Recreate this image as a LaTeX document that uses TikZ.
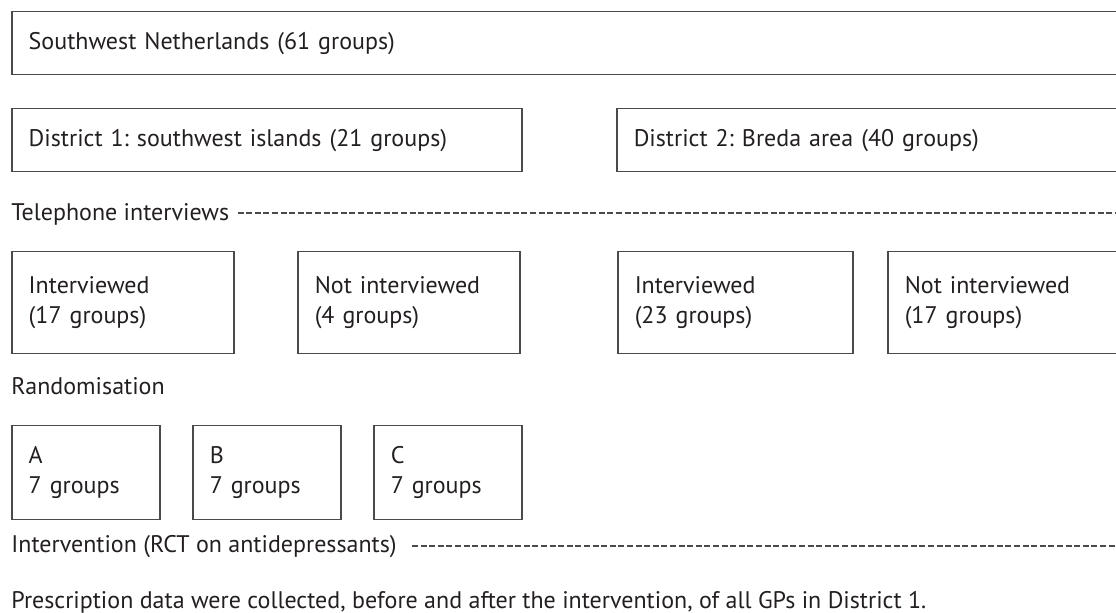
\documentclass[tikz,border=0pt]{standalone}
\usepackage{fontspec}
\setmainfont{PT Sans}
\usetikzlibrary{positioning}
\definecolor{inkgray}{HTML}{231F20}
\definecolor{linegray}{HTML}{4A4A4A}
\tikzset{
  stagebox/.style={draw=linegray, line width=0.75pt, anchor=north west, align=left,
    inner xsep=8.5pt, inner ysep=0pt, text=inkgray},
  steplabel/.style={anchor=base west, inner sep=0pt, text=inkgray},
  dashline/.style={draw=linegray, line width=0.55pt, dash pattern=on 3pt off 1.3pt},
}

\begin{document}
\frenchspacing
\begin{tikzpicture}[x=0.5pt,y=-0.5pt, font=\fontsize{12}{15}\selectfont]
        \useasboundingbox (0,0) rectangle (1116,613);
        \clip (0,0) rectangle (1116,613);
        % Region and districts
        \node[stagebox, minimum height=31.5pt, text width=600pt] (region) at (11,11) {Southwest Netherlands (61 groups)};
        \node[stagebox, minimum height=31.5pt, text width=238pt] (dist1) at (11,108) {District 1: southwest islands (21 groups)};
        \node[stagebox, minimum height=31.5pt, text width=300pt] (dist2) at (616,108) {District 2: Breda area (40 groups)};
        % Telephone interviews
        \node[steplabel] (tel) at (11,221) {Telephone interviews};
        \coordinate (telend) at (1116,213);
        \draw[dashline] (tel.east |- telend) ++(8,0) -- (telend);
        \node[stagebox, minimum height=51pt, text width=94pt] (int1) at (11,251) {Interviewed\\(17 groups)};
        \node[stagebox, minimum height=51pt, text width=94pt] (notint1) at (297,251) {Not interviewed\\(4 groups)};
        \node[stagebox, minimum height=51pt, text width=100.5pt] (int2) at (617,251) {Interviewed\\(23 groups)};
        \node[stagebox, minimum height=51pt, text width=150pt] (notint2) at (887,251) {Not interviewed\\(17 groups)};
        % Randomisation
        \node[steplabel] (rand) at (11,395) {Randomisation};
        \foreach \arm/\x in {A/11, B/192, C/373}
          \node[stagebox, minimum height=47pt, text width=57pt] (arm\arm) at (\x,425) {\arm\\7 groups};
        % Intervention
        \node[steplabel] (interv) at (11,553) {Intervention (RCT on antidepressants)};
        \coordinate (intervend) at (1116,546);
        \draw[dashline] (interv.east |- intervend) ++(15,0) -- (intervend);
        \node[steplabel] (presc) at (11,609) {Prescription data were collected, before and after the intervention, of all GPs in District 1.};
\end{tikzpicture}
\end{document}
